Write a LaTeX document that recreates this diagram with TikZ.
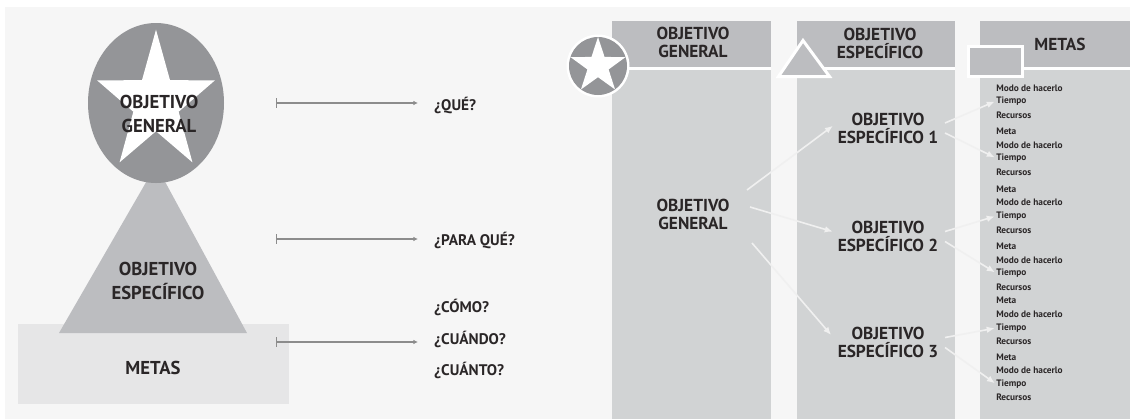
\documentclass[tikz,border=0pt]{standalone}
\usepackage{fontspec}
\setmainfont{PT Sans}
\usetikzlibrary{arrows.meta,shapes.geometric}

\definecolor{PanelBg}{HTML}{F6F6F6}
\definecolor{DarkGray}{HTML}{949598}
\definecolor{MidGray}{HTML}{BCBDC0}
\definecolor{LightGray}{HTML}{D1D3D4}
\definecolor{PaleGray}{HTML}{E6E6E7}
\definecolor{InkGray}{HTML}{2A2627}
\definecolor{FlowWhite}{HTML}{F0F0F0}
\definecolor{GuideGray}{HTML}{8C8C8C}

\begin{document}
\begin{tikzpicture}[x=0.75pt, y=-0.75pt,
    bigtext/.style={font=\bfseries\fontsize{14}{18.5}\selectfont, text=InkGray, align=center, inner sep=0pt},
    head/.style={font=\bfseries\fontsize{13}{13.5}\selectfont, text=InkGray, align=center, inner sep=0pt},
    ask/.style={font=\bfseries\fontsize{11.5}{13}\selectfont, text=InkGray, anchor=west, inner sep=0pt},
    metaitem/.style={font=\bfseries\fontsize{7}{8}\selectfont, text=InkGray, anchor=west, inner sep=0pt},
    guide/.style={draw=GuideGray, line width=1.1pt, arrows={Bar[width=7pt]-Latex[length=3.5pt,width=3.5pt]}, shorten >=12pt},
    flow/.style={draw=FlowWhite, line width=1.2pt, arrows={-Latex[length=6pt,width=5pt]}, shorten >=1pt}]
    \fill[white] (0,0) rectangle (1130,419);
    \useasboundingbox (0,0) rectangle (1130,419);
    \fill[PanelBg] (5,7) rectangle (1130,419);% both panels

    % left: pyramid
    \fill[PaleGray] (18,324) rectangle (289,404);
    \fill[MidGray] (156,165) -- (247,333) -- (59,333) -- cycle;
    \node[ellipse, fill=DarkGray, minimum width=102pt, minimum height=120pt, inner sep=0pt] (GenShape) at (156,103) {};
    \node[star, star points=5, star point ratio=2.6, fill=white, minimum size=110pt, inner sep=0pt, xscale=0.845] (GenStar) at (GenShape.center) {};
    \node[bigtext] (GenText) at (159,114) {OBJETIVO\\GENERAL};
    \node[bigtext] (EspText) at (158,281) {OBJETIVO\\ESPECÍFICO};
    \node[bigtext] (MetText) at (153,368) {METAS};

    \node[ask] (Que) at (434,105) {¿QUÉ?};
    \node[ask] (ParaQue) at (434,240) {¿PARA QUÉ?};
    \node[ask] (Como) at (434,307) {¿CÓMO?};
    \node[ask] (Cuando) at (434,339) {¿CUÁNDO?};
    \node[ask] (Cuanto) at (434,370) {¿CUÁNTO?};
    \coordinate (QueTail)  at (276,103);
    \coordinate (ParaTail) at (276,239);
    \coordinate (MetaTail) at (276,342);
    \draw[guide] (QueTail) -- (QueTail -| Que.west);
    \draw[guide] (ParaTail) -- (ParaTail -| ParaQue.west);
    \draw[guide] (MetaTail) -- (MetaTail -| Cuando.west);

    % right: three columns
    \foreach \xa/\xb in {612/771, 797/955, 980/1130} {
        \fill[LightGray] (\xa,21) rectangle (\xb,419);
        \fill[MidGray] (\xa,21) rectangle (\xb,67);
        \draw[white, line width=2.25pt] (\xa,68.5) -- (\xb,68.5);
    }
    \node[head] (HeadGen) at (693,42) {OBJETIVO\\GENERAL};
    \node[head] (HeadEsp) at (880,43.5) {OBJETIVO\\ESPECÍFICO};
    \node[head] (HeadMet) at (1060,44) {METAS};

    % icons
    \fill[white] (598,66) circle (31.5);
    \fill[DarkGray] (598,66) circle (29);
    \node[star, star points=5, star point ratio=2.6, fill=white, minimum size=43.5pt, inner sep=0pt] (IconStar) at (598,66) {};
    \filldraw[fill=MidGray, draw=white, line width=2.25pt, line join=miter] (803,40.5) -- (829.5,76.5) -- (778.5,76.5) -- cycle;
    \filldraw[fill=MidGray, draw=white, line width=2.25pt] (968.5,46.5) rectangle (1022.5,76.5);

    % column bodies
    \node[head] (GenBody) at (693,214) {OBJETIVO\\GENERAL};
    \node[head] (EspOne) at (888,128) {OBJETIVO\\ESPECÍFICO 1};
    \node[head] (EspTwo) at (888,236.5) {OBJETIVO\\ESPECÍFICO 2};
    \node[head] (EspThree) at (888,342.5) {OBJETIVO\\ESPECÍFICO 3};
    \foreach \yy/\txt [count=\i from 0] in {88/Modo de hacerlo, 101/Tiempo, 115/Recursos,
        131/Meta, 145/Modo de hacerlo, 158/Tiempo, 172/Recursos,
        189/Meta, 202/Modo de hacerlo, 216/Tiempo, 230/Recursos,
        246/Meta, 260/Modo de hacerlo, 273/Tiempo, 287/Recursos,
        300/Meta, 314/Modo de hacerlo, 328/Tiempo, 341/Recursos,
        357/Meta, 370/Modo de hacerlo, 384/Tiempo, 397/Recursos}
        \node[metaitem] (Item\i) at (996,\yy) {\txt};

    \draw[flow] ([shift={(54,-24)}]GenBody.center) -- ([shift={(-54,-3)}]EspOne.center);
    \draw[flow] ([shift={(57,-7)}]GenBody.center) -- ([shift={(-54,-4.5)}]EspTwo.center);
    \draw[flow] ([shift={(59,29)}]GenBody.center) -- ([shift={(-56,-6.5)}]EspThree.center);
    \draw[flow] ([shift={(57,-5)}]EspOne.center) -- (Item1.west);
    \draw[flow] ([shift={(57,5)}]EspOne.center) -- (Item5.west);
    \draw[flow] ([shift={(57,-5)}]EspTwo.center) -- (Item9.west);
    \draw[flow] ([shift={(57,5)}]EspTwo.center) -- (Item13.west);
    \draw[flow] ([shift={(57,-5)}]EspThree.center) -- (Item17.west);
    \draw[flow] ([shift={(57,5)}]EspThree.center) -- (Item21.west);
\end{tikzpicture}
\end{document}
